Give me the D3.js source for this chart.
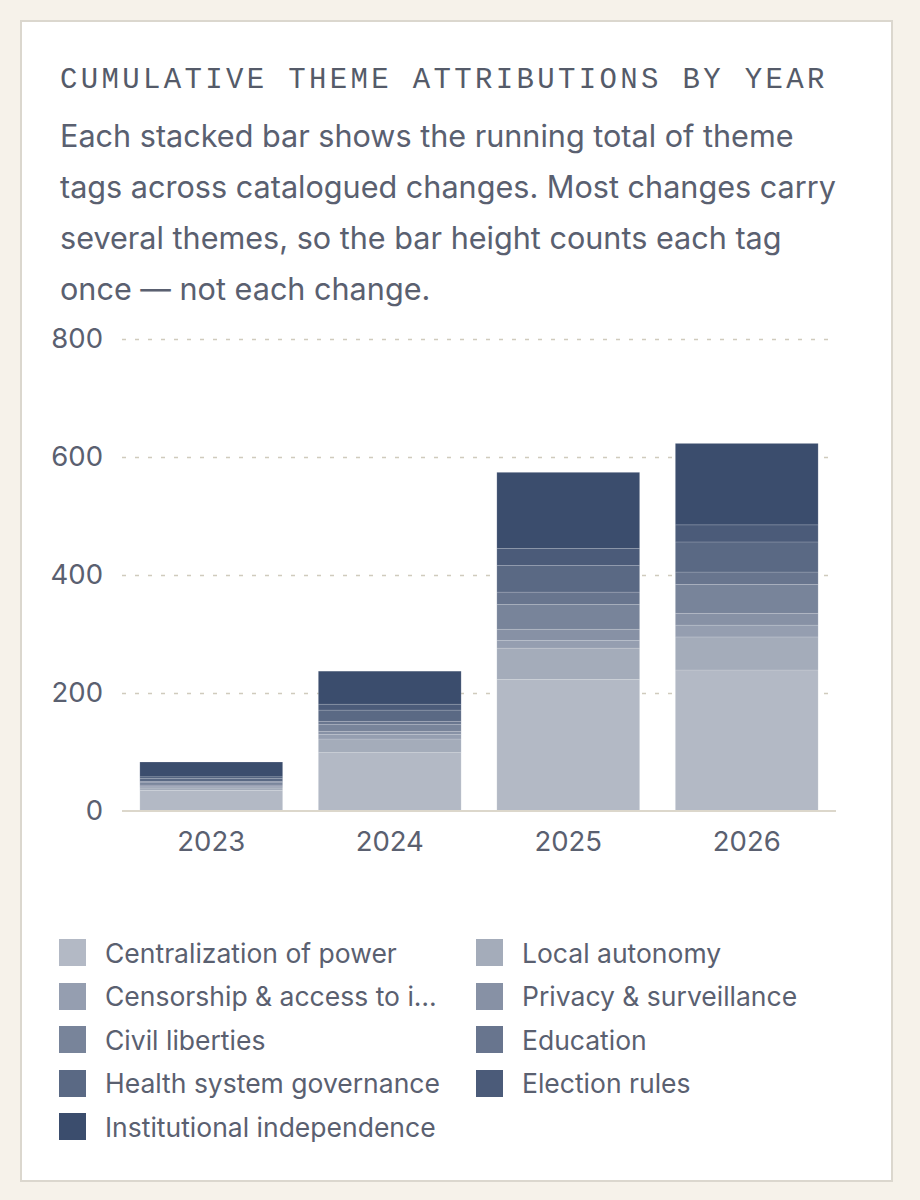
<!DOCTYPE html>
<html>
<head>
<meta charset="utf-8">
<script src="https://cdn.jsdelivr.net/npm/d3@7"></script>
<style>
  html, body { margin: 0; padding: 0; }
  body {
    width: 920px; height: 1200px;
    background: #f6f2ea;
    position: relative;
    font-family: Inter, "Noto Sans", sans-serif;
    color: #5a6070;
  }
  .card {
    position: absolute;
    left: 20px; top: 20px;
    width: 869px; height: 1158px;
    background: #fff;
    border: 2px solid #dbd7ce;
  }
  .title {
    position: absolute;
    left: 38px; top: 42px;
    font-family: "Liberation Mono", "DejaVu Sans Mono", monospace;
    font-size: 29px;
    letter-spacing: 3.35px;
    color: #555b69;
    white-space: nowrap;
  }
  .sub {
    position: absolute;
    left: 38px; top: 88px;
    font-size: 30.6px;
    line-height: 51px;
    color: #5a6070;
    white-space: nowrap;
  }
  .sub span { display: block; }
  #chart { position: absolute; left: 0; top: 278px; }
  #chart svg { display: block; }
  .legend {
    position: absolute;
    left: 37px; top: 909px;
    display: grid;
    grid-template-columns: 383px 383px;
    column-gap: 34px;
    grid-auto-rows: 43.5px;
  }
  .item { display: flex; align-items: center; width: 383px; }
  .sw { width: 27px; height: 27px; flex: 0 1 27px; min-width: 0; }
  .lab {
    margin-left: 19px;
    font-size: 26.5px;
    color: #5a6070;
    white-space: nowrap;
    flex: 0 0 auto;
  }
</style>
</head>
<body>
<div class="card">
  <div class="title">CUMULATIVE THEME ATTRIBUTIONS BY YEAR</div>
  <div class="sub">
    <span>Each stacked bar shows the running total of theme</span>
    <span>tags across catalogued changes. Most changes carry</span>
    <span>several themes, so the bar height counts each tag</span>
    <span>once — not each change.</span>
  </div>
  <div id="chart"></div>
  <div class="legend" id="legend"></div>
</div>
<script>
// data
var years = ["2023", "2024", "2025", "2026"];
var themes = [
  "Centralization of power",
  "Local autonomy",
  "Censorship & access to information",
  "Privacy & surveillance",
  "Civil liberties",
  "Education",
  "Health system governance",
  "Election rules",
  "Institutional independence"
];
var centralization = [35, 99, 223, 239];
var localAutonomy  = [4, 23, 53, 56];
var censorship     = [2, 8, 13, 20];
var privacy        = [3, 5, 19, 20];
var civilLiberties = [4, 12, 42, 49];
var education      = [2, 5, 21, 21];
var health         = [5, 19, 45, 51];
var election       = [3, 10, 29, 29];
var institutional  = [25, 56, 129, 138];
var yTicks = [0, 200, 400, 600, 800];

var colors = ["#b3b9c5", "#a4acba", "#959eb0", "#8791a5", "#78849a",
              "#68758e", "#5a6984", "#4b5b79", "#3b4d6d"];

var series = [centralization, localAutonomy, censorship, privacy, civilLiberties,
              education, health, election, institutional];

// build table for d3.stack
var table = years.map(function (y, i) {
  var row = {year: y};
  themes.forEach(function (t, j) { row[t] = series[j][i]; });
  return row;
});

var W = 869, H = 600;
var margin = {left: 100, right: 55, top: 39, bottom: 89};

var svg = d3.select("#chart").append("svg")
  .attr("width", W)
  .attr("height", H);

var g = svg.append("g").attr("transform", "translate(" + margin.left + "," + margin.top + ")");
var iw = W - margin.left - margin.right;   // 714
var ih = H - margin.top - margin.bottom;   // 472

var x = d3.scaleBand().domain(years).range([0, iw]).paddingInner(0.2).paddingOuter(0.1);
var y = d3.scaleLinear().domain([0, 800]).range([ih, 0]);
var color = d3.scaleOrdinal().domain(themes).range(colors);

// y axis + dashed grid
var yAxis = g.append("g")
  .call(d3.axisLeft(y).tickValues(yTicks).tickSize(-(iw - 6)).tickPadding(19));
yAxis.select(".domain").remove();
yAxis.selectAll(".tick line")
  .attr("stroke", "#d0cbbd")
  .attr("stroke-width", 1.5)
  .attr("stroke-dasharray", "4,9");
yAxis.selectAll(".tick").filter(function (d) { return d === 0; }).select("line").remove();
yAxis.selectAll("text")
  .attr("fill", "#5a6070")
  .style("font-family", "Inter, sans-serif")
  .style("font-size", "27.5px");

// stacked bars
var stack = d3.stack().keys(themes)(table);
g.selectAll("g.layer")
  .data(stack)
  .enter().append("g")
  .attr("class", "layer")
  .attr("fill", function (d) { return color(d.key); })
  .selectAll("rect")
  .data(function (d) { return d; })
  .enter().append("rect")
  .attr("x", function (d) { return x(d.data.year); })
  .attr("width", x.bandwidth())
  .attr("y", function (d) { return y(d[1]); })
  .attr("height", function (d) { return y(d[0]) - y(d[1]); })
  .attr("stroke", "rgba(255,255,255,0.18)")
  .attr("stroke-width", 0.8);

// baseline
g.append("line")
  .attr("x1", 0).attr("x2", iw)
  .attr("y1", y(0)).attr("y2", y(0))
  .attr("stroke", "#dcd7cb")
  .attr("stroke-width", 2);

// x axis
var xAxis = g.append("g")
  .attr("transform", "translate(0," + ih + ")")
  .call(d3.axisBottom(x).tickSize(0).tickPadding(20));
xAxis.select(".domain").remove();
xAxis.selectAll("text")
  .attr("fill", "#5a6070")
  .style("font-family", "Inter, sans-serif")
  .style("font-size", "27.5px");

// legend, long labels shortened with an ellipsis
var ctx = document.createElement("canvas").getContext("2d");
ctx.font = "26.5px Inter";
function fit(s, maxW) {
  if (ctx.measureText(s).width <= maxW) return s;
  while (s.length > 1 && ctx.measureText(s + "…").width > maxW) s = s.slice(0, -1);
  return s.trim() + "…";
}

var items = d3.select("#legend").selectAll("div.item")
  .data(themes)
  .enter().append("div")
  .attr("class", "item");
items.append("div").attr("class", "sw").style("background", function (d) { return color(d); });
items.append("div").attr("class", "lab").text(function (d) { return fit(d, 346); });
</script>
</body>
</html>
